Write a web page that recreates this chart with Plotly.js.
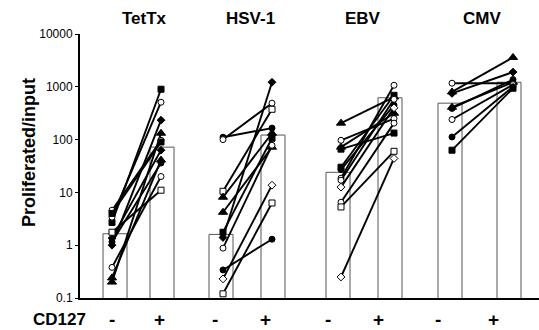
<!DOCTYPE html>
<html>
<head>
<meta charset="utf-8">
<script src="https://cdn.plot.ly/plotly-3.0.1.min.js"></script>
<style>html,body{margin:0;padding:0;background:#fff;}#chart{width:539px;height:330px;}</style>
</head>
<body>
<div id="chart"></div>
<script>
// ---- data ----
const groups = ['TetTx', 'HSV-1', 'EBV', 'CMV'];
const cd127 = ['-', '+'];
const barMinus = [1.65, 1.6, 24, 490];
const barPlus  = [72, 122, 620, 1220];

const tettxMinus = [2.7, 3.4, 1.0, 0.2, 4.6, 4.0, 1.36, 0.24, 1.15, 0.38, 1.76];
const tettxPlus  = [900, 510, 233, 132, 97, 90, 63, 41, 36, 20, 11];

const hsvMinus = [111, 100, 10.5, 8.1, 4.2, 1.76, 1.4, 0.88, 0.34, 0.23, 0.12];
const hsvPlus  = [165, 490, 375, 132, 72, 106, 1220, 78, 1.3, 13.7, 6.3];

const ebvMinus = [205, 97, 72, 66, 30, 27, 18.6, 17, 12.6, 6.5, 5.3, 0.25];
const ebvPlus  = [640, 250, 315, 133, 690, 450, 1070, 580, 400, 205, 60, 44];

const cmvMinus = [800, 1170, 750, 410, 390, 240, 112, 63];
const cmvPlus  = [3600, 1170, 1900, 1220, 1370, 1100, 1000, 940];

// ---- marker styles (per pair) ----
const S = {fsq:['square','black'], osq:['square','white'], fci:['circle','black'], oci:['circle','white'],
           fdi:['diamond','black'], odi:['diamond','white'], ftr:['triangle-up','black']};
const tettxSty = ['fsq','oci','fdi','ftr','oci','fsq','fdi','ftr','fci','oci','osq'];
const hsvSty   = ['fci','oci','osq','ftr','ftr','fsq','fdi','oci','fci','odi','osq'];
const ebvSty   = ['ftr','oci','ftr','fsq','fsq','fci','oci','oci','odi','oci','osq','odi'];
const cmvSty   = ['ftr','oci','fdi','ftr','fci','oci','fci','fsq'];

// ---- layout constants (pixel-like x coordinate system) ----
const barX = [[115, 162], [221, 273], [338, 390], [450, 509]];
const ptShift = [[-3, -1], [2, -1], [3, 4], [2, 4]];
const labelShift = [[-3, -3], [-6, -8], [-10, -12], [-12, -16]];
const titleShift = [6, 3, -1, 2];

const pairs = [
  [tettxMinus, tettxPlus, tettxSty],
  [hsvMinus, hsvPlus, hsvSty],
  [ebvMinus, ebvPlus, ebvSty],
  [cmvMinus, cmvPlus, cmvSty]
];

const traces = [];
const bx = [], by = [];
groups.forEach((g, i) => {
  bx.push(barX[i][0], barX[i][1]);
  by.push(barMinus[i], barPlus[i]);
});
traces.push({
  type: 'bar', x: bx, y: by, width: 24,
  marker: {color: 'white', line: {color: '#555', width: 1}},
  hoverinfo: 'skip', showlegend: false
});

pairs.forEach((p, gi) => {
  const [mn, pl, st] = p;
  mn.forEach((v, k) => {
    const s = S[st[k]];
    traces.push({
      type: 'scatter', mode: 'lines+markers',
      x: [barX[gi][0] + ptShift[gi][0], barX[gi][1] + ptShift[gi][1]],
      y: [v, pl[k]],
      line: {color: 'black', width: 1.9},
      marker: {symbol: s[0], color: s[1], size: s[0] === 'triangle-up' ? 8 : 6,
               line: {color: 'black', width: 1}},
      showlegend: false, cliponaxis: false
    });
  });
});

const H = 264, W = 459, L = 80, T = 34;
const FF = 'Liberation Sans, Arial, sans-serif';
const annotations = [];
groups.forEach((g, i) => {
  const cx = (barX[i][0] + barX[i][1]) / 2 + titleShift[i];
  annotations.push({
    text: '<b>' + g + '</b>', xref: 'paper', yref: 'paper',
    x: (cx - L) / W, y: 1 + (T - 18) / H, xanchor: 'center', yanchor: 'middle',
    showarrow: false, font: {family: FF, size: 17, color: 'black'}
  });
  cd127.forEach((c, j) => {
    annotations.push({
      text: '<b>' + c + '</b>', xref: 'paper', yref: 'paper',
      x: (barX[i][j] + labelShift[i][j] - L) / W, y: -(319 - 298) / H,
      xanchor: 'center', yanchor: 'middle', showarrow: false,
      font: {family: FF, size: 19, color: 'black'}
    });
  });
});
annotations.push({
  text: '<b>CD127</b>', xref: 'paper', yref: 'paper',
  x: (59 - L) / W, y: -(319 - 298) / H, xanchor: 'center', yanchor: 'middle',
  showarrow: false, font: {family: FF, size: 17, color: 'black'}
});
annotations.push({
  text: '<b>Proliferated/input</b>', xref: 'paper', yref: 'paper',
  x: (29 - L) / W, y: (298 - 153) / H, xanchor: 'center', yanchor: 'middle',
  textangle: -90, showarrow: false,
  font: {family: FF, size: 18, color: 'black'}
});

const layout = {
  width: 539, height: 330,
  margin: {l: L, r: 0, t: T, b: 32},
  paper_bgcolor: 'white', plot_bgcolor: 'white',
  showlegend: false, barmode: 'overlay',
  font: {family: FF, color: 'black'},
  xaxis: {range: [80, 539], showgrid: false, zeroline: false, showticklabels: false,
          ticks: '', showline: true, linecolor: 'black', linewidth: 2, fixedrange: true},
  yaxis: {type: 'log', range: [-1, 4], showgrid: false, zeroline: false,
          tickvals: [0.1, 1, 10, 100, 1000, 10000],
          ticktext: ['0.1', '1', '10', '100', '1000', '10000'],
          ticks: 'outside', ticklen: 3, tickwidth: 1, tickcolor: 'black',
          tickfont: {size: 12, color: 'black'},
          showline: true, linecolor: 'black', linewidth: 2, fixedrange: true},
  annotations: annotations
};

Plotly.newPlot('chart', traces, layout, {staticPlot: true, displayModeBar: false});
</script>
</body>
</html>
